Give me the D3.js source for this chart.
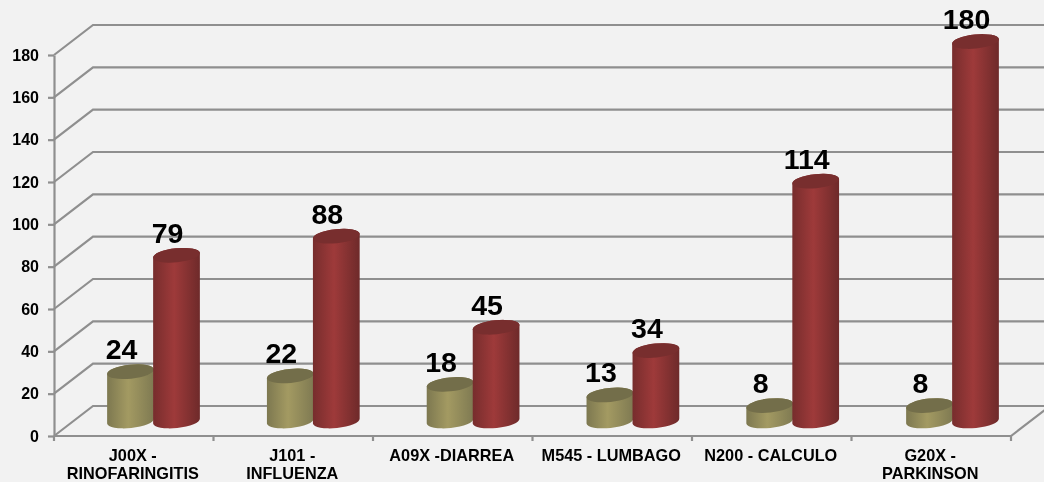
<!DOCTYPE html>
<html>
<head>
<meta charset="utf-8">
<script src="https://cdn.jsdelivr.net/npm/d3@7"></script>
<style>
  html, body { margin: 0; padding: 0; background: #f2f2f2; overflow: hidden; }
  svg { display: block; filter: blur(0.4px); }
  text { font-family: "Liberation Sans", Arial, sans-serif; font-weight: bold; fill: #000; }
  .axis path, .axis line, .grid { stroke: #8f8f8f; stroke-width: 2.2; fill: none; }
</style>
</head>
<body>
<div id="chart"></div>
<script>
var categories = ['J00X -\nRINOFARINGITIS', 'J101 -\nINFLUENZA', 'A09X -DIARREA', 'M545 - LUMBAGO', 'N200 - CALCULO', 'G20X -\nPARKINSON'];
var olive = [24, 22, 18, 13, 8, 8];
var red = [79, 88, 45, 34, 114, 180];
var yTicks = [0, 20, 40, 60, 80, 100, 120, 140, 160, 180];

var width = 1044, height = 482;
var left = 54, right = 1011, bottom = 436, top_ = 55;
var depthX = 39, depthY = 30;

var svg = d3.select('#chart').append('svg').
attr('width', width).
attr('height', height);

var x = d3.scaleBand().domain(categories).range([left, right]);
var y = d3.scaleLinear().domain([0, 180]).range([bottom, top_]);

var defs = svg.append('defs');
function cylGradient(id, edgeL, mid, edgeR) {
  var g = defs.append('linearGradient').attr('id', id);
  g.append('stop').attr('offset', '0%').attr('stop-color', edgeL);
  g.append('stop').attr('offset', '45%').attr('stop-color', mid);
  g.append('stop').attr('offset', '100%').attr('stop-color', edgeR);
}
cylGradient('oliveBody', '#7d7850', '#a39a62', '#7f7a52');
cylGradient('redBody', '#772d2d', '#9e3a3a', '#6e2a2a');

//back wall and floor lines
svg.selectAll('.grid').
data(yTicks).
enter().
append('path').
attr('class', 'grid').
attr('d', function (d) {
  return d3.line()([[left, y(d)], [left + depthX, y(d) - depthY], [width + 5, y(d) - depthY]]);
});

svg.append('path').
attr('class', 'grid').
attr('d', d3.line()([[left, bottom], [right, bottom], [right + depthX, bottom - depthY]]));

//y axis
svg.append('g').
attr('class', 'axis').
attr('transform', 'translate(' + left + ',0)').
call(d3.axisLeft(y).tickValues(yTicks).tickSize(6).tickPadding(9).tickSizeOuter(0)).
selectAll('text').
style('font-size', '16px');

//x axis, ticks sit on the category edges
var xAxis = svg.append('g').
attr('class', 'axis').
attr('transform', 'translate(0,' + bottom + ')');

xAxis.selectAll('.edge').
data(d3.range(categories.length + 1)).
enter().
append('line').
attr('x1', function (i) {return left + i * x.step();}).
attr('x2', function (i) {return left + i * x.step();}).
attr('y1', 0).
attr('y2', 5);

var catLabel = xAxis.selectAll('.cat').
data(categories).
enter().
append('text').
attr('class', 'cat').
attr('text-anchor', 'middle').
attr('transform', function (d) {return 'translate(' + (x(d) + x.step() / 2 - 1) + ',25)';}).
style('font-size', '16.3px');

catLabel.selectAll('tspan').
data(function (d) {return d.split('\n');}).
enter().
append('tspan').
attr('x', 0).
attr('y', function (d, i) {return i * 17.5;}).
text(function (d) {return d;});

//cylinders
var rx = 23.5, ry = 7, tilt = 6;
var cosT = Math.cos(tilt * Math.PI / 180), sinT = Math.sin(tilt * Math.PI / 180);
var baseShiftY = 15, topShiftY = 13.5;

function arc(toX, toY, sweep) {
  return 'A' + rx + ',' + ry + ' ' + (-tilt) + ' 0 ' + sweep + ' ' + toX + ',' + toY;
}

function drawSeries(values, name, centerOffset, topColor) {
  var g = svg.append('g');
  var cx = function (i) {return x(categories[i]) + centerOffset + i * 0.3;};
  var dx = rx * cosT, dy = rx * sinT;

  g.selectAll('.body').
  data(values).
  enter().
  append('path').
  attr('fill', 'url(#' + name + 'Body)').
  attr('d', function (d, i) {
    var c = cx(i), t = y(d) - topShiftY, b = y(0) - baseShiftY;
    return 'M' + (c - dx) + ',' + (t + dy) +
    'L' + (c - dx) + ',' + (b + dy) +
    arc(c + dx, b - dy, 0) +
    'L' + (c + dx) + ',' + (t - dy) +
    arc(c - dx, t + dy, 0) + 'Z';
  });

  g.selectAll('.cap').
  data(values).
  enter().
  append('ellipse').
  attr('rx', rx).
  attr('ry', ry).
  attr('fill', topColor).
  attr('transform', function (d, i) {
    return 'translate(' + cx(i) + ',' + (y(d) - topShiftY) + ') rotate(' + (-tilt) + ')';
  });

  return cx;
}

var oliveX = drawSeries(olive, 'olive', 76.5, '#736e4a');
var redX = drawSeries(red, 'red', 122.5, '#782e2e');

//value labels
function valueLabels(values, cx) {
  svg.selectAll(null).
  data(values).
  enter().
  append('text').
  attr('x', function (d, i) {return cx(i) - 9;}).
  attr('y', function (d) {return y(d) - baseShiftY - 11;}).
  attr('text-anchor', 'middle').
  style('font-size', '28.5px').
  text(function (d) {return d;});
}
valueLabels(olive, oliveX);
valueLabels(red, redX);
</script>
</body>
</html>
